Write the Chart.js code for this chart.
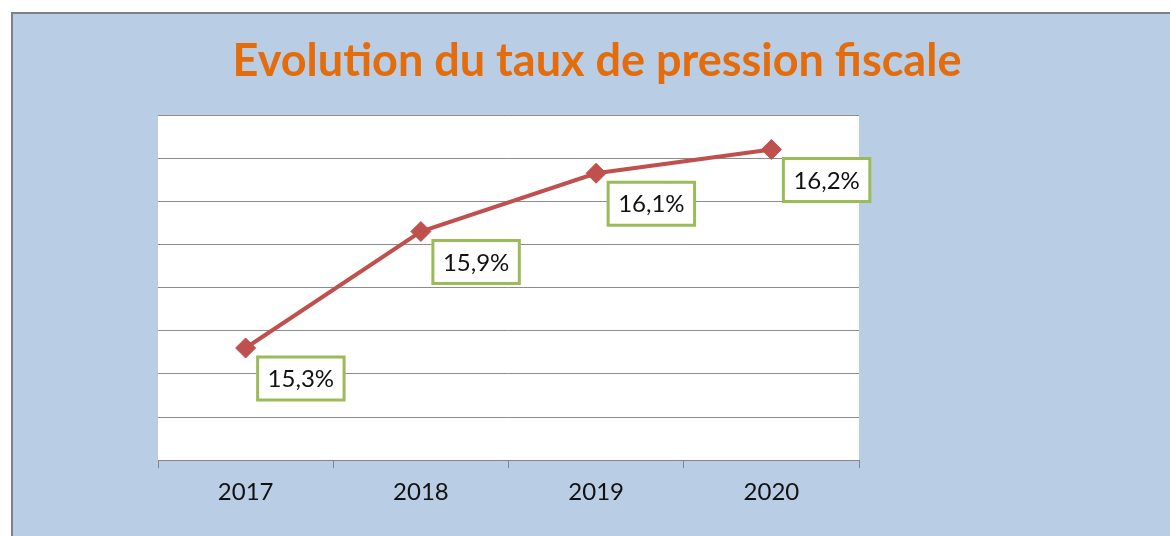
<!DOCTYPE html>
<html>
<head>
<meta charset="utf-8">
<script src="https://cdn.jsdelivr.net/npm/chart.js@4"></script>
<style>
  html, body { margin: 0; padding: 0; background: #fff; overflow: hidden; }
  #panel {
    position: absolute; left: 11px; top: 12px;
    width: 1157px; height: 522px;
    background: #b9cde5;
    border-left: 2px solid #808080; border-top: 2px solid #808080;
  }
  canvas { display: block; }
</style>
</head>
<body>
<div id="panel"><canvas id="chart" width="1157" height="522"></canvas></div>
<script>
// chart data
const TITLE = "Evolution du taux de pression fiscale";
const years = ["2017", "2018", "2019", "2020"];
const taux = [15.32, 15.86, 16.13, 16.24];
const yMin = 14.8, yMax = 16.4, yStep = 0.2;

function fmt(v) {
  return v.toFixed(1).replace(".", ",") + "%";
}

// title drawn over the panel, not centred on the plot
const titlePlugin = {
  id: "panelTitle",
  afterDraw(chart) {
    const ctx = chart.ctx;
    ctx.save();
    ctx.font = "bold 45px Lato";
    ctx.fillStyle = "#e46c0a";
    ctx.textAlign = "center";
    ctx.textBaseline = "alphabetic";
    ctx.fillText(TITLE, 584, 62);
    ctx.restore();
  }
};

// boxed value labels below-right of each point
const labelPlugin = {
  id: "boxLabels",
  afterDatasetsDraw(chart) {
    const ctx = chart.ctx;
    const meta = chart.getDatasetMeta(0);
    ctx.save();
    ctx.font = "24px Lato";
    meta.data.forEach((pt, i) => {
      const txt = fmt(chart.data.datasets[0].data[i]);
      const w = ctx.measureText(txt).width + 20;
      const h = 43;
      const cx = pt.x + 12 + w / 2;
      const cy = pt.y + 9 + h / 2;
      ctx.fillStyle = "#ffffff";
      ctx.fillRect(cx - w / 2, cy - h / 2, w, h);
      ctx.lineWidth = 3;
      ctx.strokeStyle = "#9bbb59";
      ctx.strokeRect(cx - w / 2, cy - h / 2, w, h);
      ctx.fillStyle = "#111111";
      ctx.textAlign = "center";
      ctx.textBaseline = "middle";
      ctx.fillText(txt, cx, cy + 1);
    });
    ctx.restore();
  }
};

const plotBg = {
  id: "plotBg",
  beforeDraw(chart) {
    const a = chart.chartArea;
    chart.ctx.save();
    chart.ctx.fillStyle = "#ffffff";
    chart.ctx.fillRect(a.left, a.top, a.right - a.left, a.bottom - a.top);
    chart.ctx.restore();
  }
};

new Chart(document.getElementById("chart"), {
  type: "line",
  data: {
    labels: years,
    datasets: [{
      data: taux,
      borderColor: "#c0504d",
      borderWidth: 4,
      pointStyle: "rectRot",
      pointRadius: 10,
      pointBackgroundColor: "#c0504d",
      pointBorderColor: "#c0504d",
      pointBorderWidth: 1,
      tension: 0
    }]
  },
  options: {
    responsive: false,
    animation: false,
    layout: { padding: { left: 145, right: 311, top: 101, bottom: 19 } },
    plugins: {
      legend: { display: false },
      title: { display: false },
      tooltip: { enabled: false }
    },
    scales: {
      x: {
        offset: true,
        grid: {
          offset: true,
          drawOnChartArea: false,
          drawTicks: true,
          tickLength: 8,
          color: "#868686"
        },
        border: { color: "#868686", width: 1 },
        ticks: {
          color: "#111111",
          font: { family: "Lato", size: 24 },
          padding: 10
        }
      },
      y: {
        min: yMin,
        max: yMax,
        ticks: { display: false, stepSize: yStep },
        grid: { drawTicks: false, color: "#8c8c8c" },
        border: { display: false }
      }
    }
  },
  plugins: [plotBg, labelPlugin, titlePlugin]
});
</script>
</body>
</html>
